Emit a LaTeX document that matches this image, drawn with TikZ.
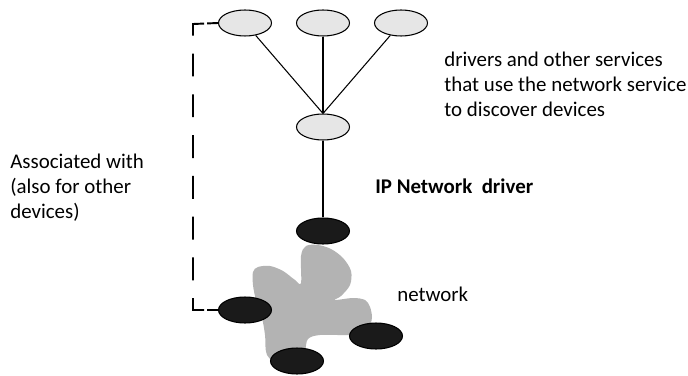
\documentclass[tikz,border=0pt]{standalone}
\usepackage{fontspec}
\setmainfont{Carlito}
\usetikzlibrary{shapes.geometric}

\definecolor{svcgray}{RGB}{230,230,230}
\definecolor{netgray}{RGB}{179,179,179}
\definecolor{devblack}{RGB}{26,26,26}

\begin{document}
\begin{tikzpicture}[x=0.02cm, y=-0.02cm,
  svc/.style={ellipse, draw, line width=0.6pt, fill=svcgray, minimum width=1.06cm, minimum height=0.52cm, inner sep=0pt},
  dev/.style={ellipse, draw, line width=0.6pt, fill=devblack, minimum width=1.06cm, minimum height=0.52cm, inner sep=0pt},
  lbl/.style={inner sep=0pt, font=\fontsize{11.9}{14.2}\selectfont, align=left},
  link/.style={line width=0.6pt},
  assoc/.style={line width=1.1pt, dash pattern=on 6.2pt off 1.7pt on 13pt off 10.2pt on 13pt off 10.2pt on 13pt off 10.2pt on 13pt off 10.2pt on 13pt off 10.2pt on 13pt off 10.2pt on 13pt off 10.2pt on 13pt off 1.7pt on 6.2pt off 20pt}]

\useasboundingbox (0,0) rectangle (688,375);

% network cloud
\fill[netgray] plot[smooth cycle, tension=0.55] coordinates {
  (301,283) (301,256) (306,246) (318,245) (331,249) (343,258) (351,271) (350,285) (341,296) (335,300)
  (353,298) (365,300) (370,307) (372,317) (370,324) (362,332) (350,335) (320,335) (308,339)
  (305,350) (298,362) (280,364) (267,355) (265,335) (262,318) (256,300) (253,285) (253,272)
  (258,267) (270,266) (283,271) (295,280)};

\node[svc] (t1) at (245,23) {};
\node[svc] (t2) at (323,23) {};
\node[svc] (t3) at (401,23) {};
\node[svc] (m) at (323,127) {};

\node[dev] (b1) at (323,231) {};
\node[dev] (b2) at (245,310) {};
\node[dev] (b3) at (376,336) {};
\node[dev] (b4) at (297,361) {};

\draw[link] (t1) -- (m.north);
\draw[link] (t2) -- (m.north);
\draw[link] (t3) -- (m.north);
\draw[line width=1pt] (m.south) -- (b1.north);

\coordinate (dtop) at (193,24);
\draw[assoc] (t1.west) -- (dtop) |- (b2.west);

\node[lbl, anchor=west] (svctext) at (444,84) {drivers and other services\\that use the network service\\to discover devices};
\node[lbl, anchor=base west, font=\fontsize{11.9}{14.2}\selectfont\bfseries] (drvtext) at (375,193) {IP Network\ \ driver};
\node[lbl, anchor=base west] (nettext) at (397,301) {network};
\node[lbl, anchor=west] (assoctext) at (10,188) {Associated with\\(also for other\\devices)};

\end{tikzpicture}
\end{document}
